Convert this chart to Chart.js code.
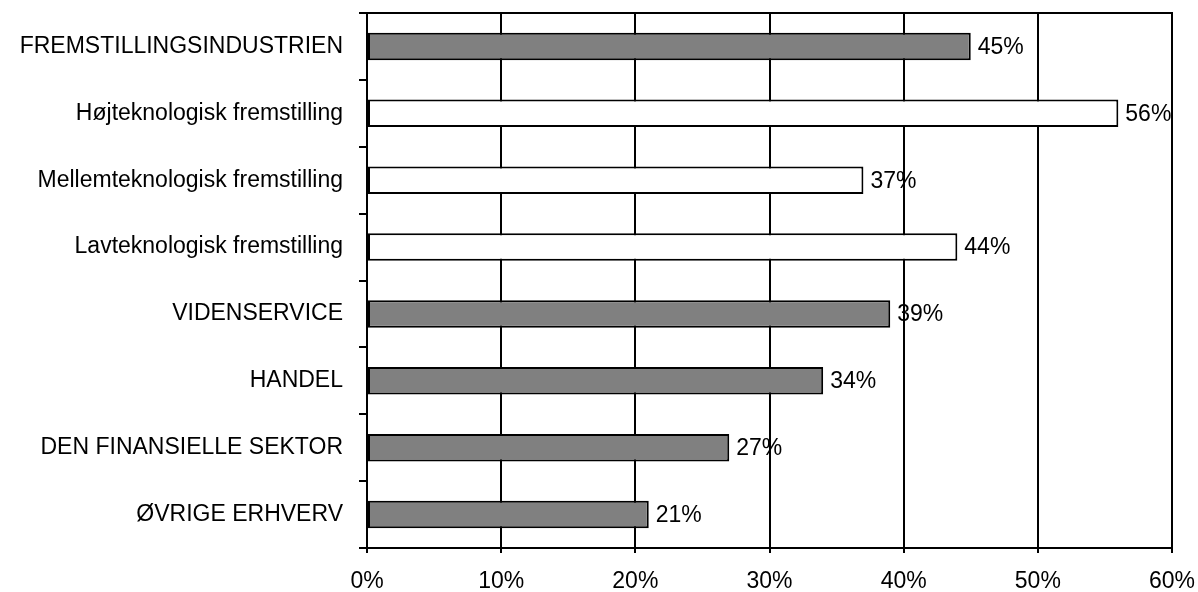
<!DOCTYPE html>
<html>
<head>
<meta charset="utf-8">
<script src="https://cdn.jsdelivr.net/npm/chart.js@4/dist/chart.umd.min.js"></script>
<style>
html,body{margin:0;padding:0;background:#fff;}
#wrap{width:1198px;height:592px;}
</style>
</head>
<body>
<div id="wrap"><canvas id="c" width="1198" height="592"></canvas></div>
<script>
const categories = ["FREMSTILLINGSINDUSTRIEN","Højteknologisk fremstilling","Mellemteknologisk fremstilling","Lavteknologisk fremstilling","VIDENSERVICE","HANDEL","DEN FINANSIELLE SEKTOR","ØVRIGE ERHVERV"];
const values = [45, 56, 37, 44, 39, 34, 27, 21];
const barColors = ["#808080","#ffffff","#ffffff","#ffffff","#808080","#808080","#808080","#808080"];
const xTicks = [0, 10, 20, 30, 40, 50, 60];

const FONT = "'Liberation Sans', Arial, sans-serif";
const FSIZE = 23;

const labelPlugin = {
  id: 'labels',
  afterDatasetsDraw(chart) {
    const ctx = chart.ctx;
    const meta = chart.getDatasetMeta(0);
    ctx.save();
    ctx.font = FSIZE + "px " + FONT;
    ctx.fillStyle = "#000";
    ctx.textAlign = "left";
    ctx.textBaseline = "middle";
    meta.data.forEach((bar, i) => {
      ctx.fillText(values[i] + "%", bar.x + 7, bar.y + 1);
    });
    ctx.restore();
  },
  afterDraw(chart) {
    const a = chart.chartArea;
    const ctx = chart.ctx;
    ctx.save();
    ctx.strokeStyle = "#000";
    ctx.lineWidth = 2;
    ctx.beginPath();
    ctx.moveTo(a.left, a.top);
    ctx.lineTo(a.right, a.top);
    ctx.lineTo(a.right, a.bottom);
    ctx.stroke();
    ctx.restore();
  }
};

new Chart(document.getElementById('c'), {
  type: 'bar',
  data: {
    labels: categories,
    datasets: [{
      data: values,
      backgroundColor: barColors,
      borderColor: "#000",
      borderWidth: 2,
      borderSkipped: false,
      categoryPercentage: 1,
      barPercentage: 0.41
    }]
  },
  options: {
    indexAxis: 'y',
    responsive: false,
    animation: false,
    devicePixelRatio: 1,
    layout: { padding: { top: 13, right: 26, left: 0, bottom: 0 } },
    plugins: { legend: { display: false }, tooltip: { enabled: false } },
    scales: {
      x: {
        min: 0, max: 60,
        afterBuildTicks(scale) { scale.ticks = xTicks.map(v => ({ value: v })); },
        afterFit(scale) { scale.height = 44; scale.paddingLeft = 0; scale.paddingRight = 0; },
        ticks: {
          callback: v => v + "%",
          color: "#000",
          font: { family: FONT, size: FSIZE },
          padding: 15,
          maxRotation: 0
        },
        grid: { color: "#000", lineWidth: 2, tickLength: 5, drawTicks: true },
        border: { display: true, color: "#000", width: 2 }
      },
      y: {
        afterFit(scale) { scale.width = 367; scale.paddingTop = 0; scale.paddingBottom = 0; },
        ticks: {
          color: "#000",
          font: { family: FONT, size: FSIZE },
          padding: 16,
          autoSkip: false
        },
        grid: { offset: true, drawOnChartArea: false, color: "#000", lineWidth: 2, tickLength: 8 },
        border: { display: true, color: "#000", width: 2 }
      }
    }
  },
  plugins: [labelPlugin]
});
</script>
</body>
</html>
